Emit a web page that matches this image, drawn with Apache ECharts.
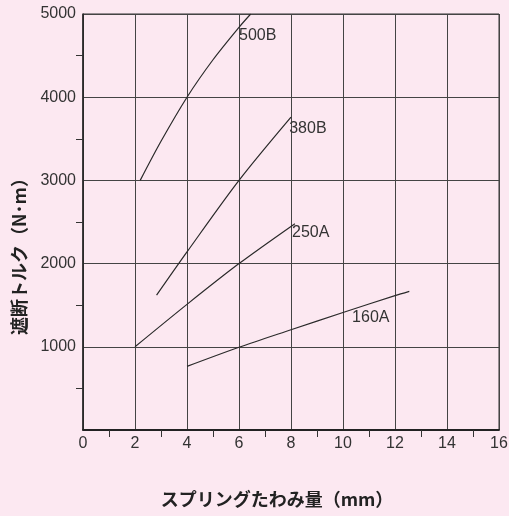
<!DOCTYPE html>
<html>
<head>
<meta charset="utf-8">
<script src="https://cdn.jsdelivr.net/npm/echarts@6/dist/echarts.min.js"></script>
<style>
  html, body { margin: 0; padding: 0; background: #fce8f1; }
  #main { width: 509px; height: 516px; }
</style>
</head>
<body>
<div id="main"></div>
<script>
// 曲線データ [たわみ量(mm), 遮断トルク(N·m)]
var names = ['500B', '380B', '250A', '160A'];
var line500B = [[2.2, 3000], [3, 3470], [4, 4000], [5, 4450], [6, 4840], [6.45, 5000]];
var line380B = [[2.83, 1620], [4, 2140], [6, 3000], [8, 3760]];
var line250A = [[2, 1000], [4, 1510], [6, 2000], [8.15, 2480]];
var line160A = [[4, 765], [6, 995], [8, 1205], [10, 1412], [12, 1615], [12.55, 1667]];
var xTicks = [0, 2, 4, 6, 8, 10, 12, 14, 16];
var yTicks = [1000, 2000, 3000, 4000, 5000];

// ラベルの位置 (データ座標)
var labelAt = [[6.0, 4735], [7.93, 3618], [8.04, 2368], [10.35, 1346]];

var allLines = [line500B, line380B, line250A, line160A];
var txt = '#333';
var numFont = 'Liberation Sans, Arial, sans-serif';
var jpFont = '"Noto Sans CJK JP", sans-serif';

var series = allLines.map(function (d, i) {
    return {
        name: names[i],
        type: 'line',
        data: d,
        smooth: 0.3,
        showSymbol: false,
        silent: true,
        lineStyle: { color: '#2a2a2a', width: 1.2 },
        markPoint: {
            symbol: 'circle',
            symbolSize: 0,
            silent: true,
            data: [{
                coord: labelAt[i],
                label: {
                    show: true,
                    position: 'right',
                    distance: 0,
                    formatter: names[i],
                    color: txt,
                    fontSize: 16,
                    fontFamily: numFont
                }
            }]
        }
    };
});

var myChart = echarts.init(document.getElementById('main'));
var option = {
    backgroundColor: '#fce8f1',
    animation: false,
    grid: {
        left: 83, right: 10, top: 14, bottom: 86,
        outerBoundsMode: 'none',
        containLabel: false,
        show: true,
        borderColor: '#333',
        borderWidth: 1,
        backgroundColor: 'transparent'
    },
    xAxis: {
        type: 'value',
        min: 0, max: 16, interval: 2,
        name: 'スプリングたわみ量（mm）',
        nameLocation: 'middle',
        nameGap: 60,
        nameTextStyle: {
            color: '#222', fontSize: 18, fontWeight: 'bold', fontFamily: jpFont,
            padding: [0, 28, 0, 0]
        },
        axisLine: { lineStyle: { color: '#222', width: 1.8 } },
        axisTick: { show: false },
        minorTick: { show: true, splitNumber: 2, length: 7, lineStyle: { color: '#333' } },
        axisLabel: {
            color: txt, fontSize: 16, fontFamily: numFont, margin: 6,
            formatter: function (v) { return xTicks.indexOf(v) >= 0 ? String(v) : ''; }
        },
        splitLine: { show: true, lineStyle: { color: '#444', width: 1 } }
    },
    yAxis: {
        type: 'value',
        min: 0, max: 5000, interval: 1000,
        name: '遮断トルク（N･m）',
        nameLocation: 'middle',
        nameRotate: 90,
        nameGap: 55,
        nameTextStyle: {
            color: '#222', fontSize: 18, fontWeight: 'bold', fontFamily: jpFont,
            padding: [0, 60, 0, 0]
        },
        axisLine: { lineStyle: { color: '#222', width: 1.5 } },
        axisTick: { show: false },
        minorTick: { show: true, splitNumber: 2, length: 7, lineStyle: { color: '#333' } },
        axisLabel: {
            color: txt, fontSize: 16, fontFamily: numFont, margin: 7,
            formatter: function (v) { return yTicks.indexOf(v) >= 0 ? String(v) : ''; }
        },
        splitLine: { show: true, lineStyle: { color: '#444', width: 1 } }
    },
    series: series
};
myChart.setOption(option);
</script>
</body>
</html>
